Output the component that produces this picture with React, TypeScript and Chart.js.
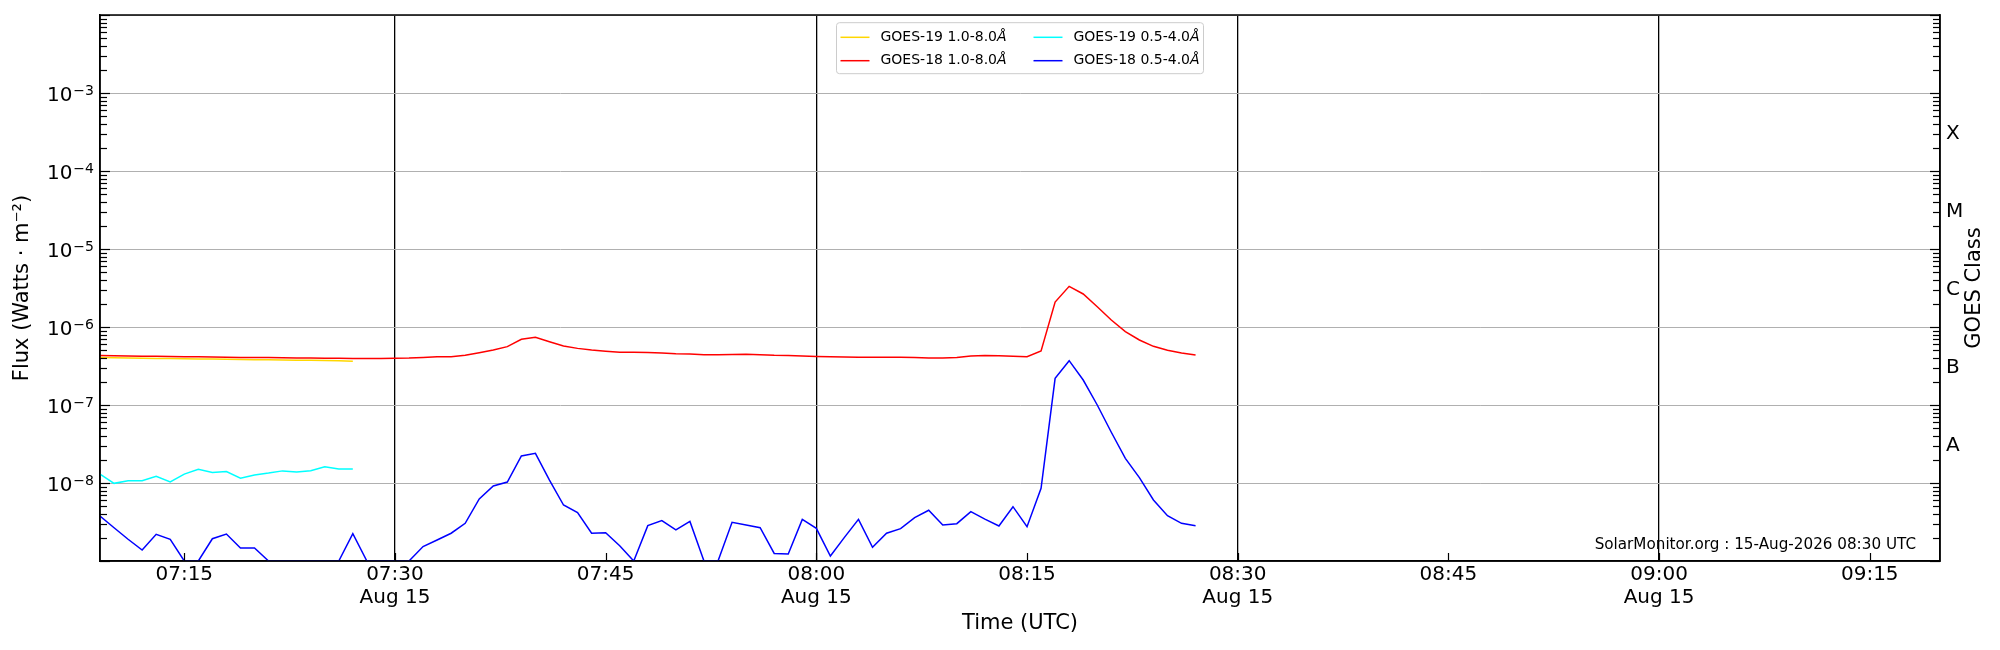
import { useEffect, useRef } from "react";
import { Chart, registerables } from "chart.js";

Chart.register(...registerables);

const FONT = "'DejaVu Sans', sans-serif";

// time axis in minutes after 00:00 UTC
const firstSample = 7 * 60 + 9; // 07:09, one reading per minute
const axisStart = 7 * 60 + 9;
const axisEnd = 9 * 60 + 20;
const timeTicks = [435, 450, 465, 480, 495, 510, 525, 540, 555];
const dayLabel = "Aug 15";

// flux axis
const fluxDecades = [-8, -7, -6, -5, -4, -3];
const goesClasses = ["A", "B", "C", "M", "X"];
const goesClassFlux = [3e-8, 3e-7, 3e-6, 3e-5, 3e-4];

const watermark = "SolarMonitor.org : 15-Aug-2026 08:30 UTC";

// Watts m^-2, 07:09 onwards
const goes19Long = [
  4.05e-7, 4.03e-7, 4.01e-7, 3.98e-7, 3.96e-7, 3.95e-7, 3.92e-7, 3.89e-7, 3.88e-7, 3.86e-7,
  3.83e-7, 3.81e-7, 3.8e-7, 3.78e-7, 3.75e-7, 3.74e-7, 3.71e-7, 3.68e-7, 3.65e-7
];

const goes19Short = [
  1.3e-8, 9.9e-9, 1.07e-8, 1.07e-8, 1.22e-8, 1.03e-8, 1.3e-8, 1.5e-8, 1.36e-8, 1.4e-8,
  1.15e-8, 1.27e-8, 1.34e-8, 1.43e-8, 1.38e-8, 1.44e-8, 1.62e-8, 1.51e-8, 1.51e-8
];

const goes18Long = [
  4.3e-7, 4.28e-7, 4.26e-7, 4.23e-7, 4.21e-7, 4.18e-7, 4.16e-7, 4.14e-7, 4.12e-7, 4.09e-7,
  4.07e-7, 4.06e-7, 4.05e-7, 4.03e-7, 4.01e-7, 3.99e-7, 3.98e-7, 3.97e-7, 3.96e-7, 3.96e-7,
  3.96e-7, 3.97e-7, 4.0e-7, 4.07e-7, 4.15e-7, 4.15e-7, 4.33e-7, 4.69e-7, 5.07e-7, 5.6e-7,
  6.95e-7, 7.38e-7, 6.48e-7, 5.7e-7, 5.32e-7, 5.07e-7, 4.88e-7, 4.73e-7, 4.73e-7, 4.72e-7,
  4.64e-7, 4.55e-7, 4.51e-7, 4.42e-7, 4.42e-7, 4.43e-7, 4.47e-7, 4.42e-7, 4.33e-7, 4.3e-7,
  4.25e-7, 4.2e-7, 4.17e-7, 4.12e-7, 4.08e-7, 4.08e-7, 4.09e-7, 4.08e-7, 4.05e-7, 4.0e-7,
  4.0e-7, 4.05e-7, 4.25e-7, 4.3e-7, 4.27e-7, 4.21e-7, 4.17e-7, 4.92e-7, 2.09e-6, 3.32e-6,
  2.65e-6, 1.82e-6, 1.23e-6, 8.71e-7, 6.81e-7, 5.65e-7, 5.02e-7, 4.64e-7, 4.38e-7
];

const goes18Short = [
  3.78e-9, 2.67e-9, 1.9e-9, 1.38e-9, 2.2e-9, 1.9e-9, 1e-9, 1e-9, 1.93e-9, 2.22e-9,
  1.47e-9, 1.47e-9, 1e-9, 1e-9, 1e-9, 1e-9, 1e-9, 1e-9, 2.24e-9, 1e-9,
  1e-9, 1e-9, 1e-9, 1.53e-9, 1.86e-9, 2.27e-9, 3.04e-9, 6.24e-9, 9.16e-9, 1.03e-8,
  2.22e-8, 2.4e-8, 1.09e-8, 5.22e-9, 4.17e-9, 2.27e-9, 2.3e-9, 1.57e-9, 1e-9, 2.84e-9,
  3.29e-9, 2.5e-9, 3.22e-9, 1e-9, 1e-9, 3.13e-9, 2.9e-9, 2.67e-9, 1.25e-9, 1.23e-9,
  3.42e-9, 2.62e-9, 1.16e-9, 2.01e-9, 3.42e-9, 1.5e-9, 2.27e-9, 2.6e-9, 3.59e-9, 4.47e-9,
  2.9e-9, 3.01e-9, 4.29e-9, 3.45e-9, 2.81e-9, 4.97e-9, 2.75e-9, 8.55e-9, 2.2e-7, 3.7e-7,
  2.09e-7, 1.0e-7, 4.47e-8, 2.07e-8, 1.17e-8, 6.05e-9, 3.81e-9, 3.04e-9, 2.84e-9
];

const hhmm = (m: number) =>
  String(Math.floor(m / 60)).padStart(2, "0") + ":" + String(m % 60).padStart(2, "0");

const toPoints = (values: number[]) => values.map((y, i) => ({ x: firstSample + i, y }));

const isDecade = (v: number) => {
  const l = Math.log10(v);
  return Math.abs(l - Math.round(l)) < 1e-6;
};

function logTicks() {
  const ticks: { value: number }[] = [];
  for (let e = -9; e <= -2; e++) {
    for (let m = 1; m <= 9; m++) {
      if (e === -2 && m > 1) break;
      ticks.push({ value: m * Math.pow(10, e) });
    }
  }
  return ticks;
}

const line = (ctx: CanvasRenderingContext2D, x1: number, y1: number, x2: number, y2: number) => {
  ctx.beginPath();
  ctx.moveTo(x1, y1);
  ctx.lineTo(x2, y2);
  ctx.stroke();
};

const decorPlugin = {
  id: "goesDecor",
  afterDraw(chart: any) {
    const { ctx, chartArea: a, scales } = chart;
    ctx.save();

    // inward tick marks
    ctx.strokeStyle = "#000";
    ctx.lineWidth = 1.2;
    scales.y.ticks.forEach((t: any) => {
      const py = Math.round(scales.y.getPixelForValue(t.value)) + 0.5;
      const len = isDecade(t.value) ? 10 : 7;
      line(ctx, a.left, py, a.left + len, py);
      line(ctx, a.right, py, a.right - len, py);
    });
    scales.x.ticks.forEach((t: any) => {
      const px = Math.round(scales.x.getPixelForValue(t.value)) + 0.5;
      line(ctx, px, a.bottom, px, a.bottom - 8);
    });

    // frame
    ctx.lineWidth = 1.5;
    ctx.strokeRect(a.left, a.top, a.right - a.left, a.bottom - a.top);

    // decade labels as 10 with a raised exponent
    ctx.fillStyle = "#000";
    ctx.textBaseline = "alphabetic";
    fluxDecades.forEach((e) => {
      const py = scales.y.getPixelForValue(Math.pow(10, e));
      const exp = "\u2212" + String(Math.abs(e));
      ctx.font = `14px ${FONT}`;
      const ew = ctx.measureText(exp).width;
      const right = a.left - 6;
      ctx.textAlign = "right";
      ctx.fillText(exp, right, py + 1.7);
      ctx.font = `20px ${FONT}`;
      ctx.fillText("10", right - ew - 1, py + 8.4);
    });

    // right axis title
    ctx.save();
    ctx.translate(a.right + 35, (a.top + a.bottom) / 2);
    ctx.rotate(-Math.PI / 2);
    ctx.font = `21px ${FONT}`;
    ctx.fillStyle = "#000";
    ctx.textAlign = "center";
    ctx.textBaseline = "middle";
    ctx.fillText("GOES Class", 0, 0);
    ctx.restore();

    // credit
    ctx.font = `15.2px ${FONT}`;
    ctx.fillStyle = "#000";
    ctx.textAlign = "right";
    ctx.textBaseline = "alphabetic";
    ctx.fillText(watermark, a.right - 24, a.bottom - 12);

    // legend, two columns, upper centre
    const boxW = 367;
    const boxH = 51;
    const bx = (a.left + a.right) / 2 - boxW / 2;
    const by = a.top + 7.7;
    ctx.beginPath();
    if (ctx.roundRect) ctx.roundRect(bx, by, boxW, boxH, 3);
    else ctx.rect(bx, by, boxW, boxH);
    ctx.fillStyle = "rgba(255,255,255,0.8)";
    ctx.fill();
    ctx.strokeStyle = "#cccccc";
    ctx.lineWidth = 1;
    ctx.stroke();

    chart.data.datasets.forEach((ds: any, i: number) => {
      const col = Math.floor(i / 2);
      const row = i % 2;
      const lx = bx + 4 + col * 193;
      const ly = by + 14.6 + row * 23.4;
      ctx.strokeStyle = ds.borderColor;
      ctx.lineWidth = ds.borderWidth;
      line(ctx, lx, ly, lx + 29, ly);
      const text: string = ds.label;
      const base = text.slice(0, -1);
      ctx.fillStyle = "#000";
      ctx.textAlign = "left";
      ctx.textBaseline = "middle";
      ctx.font = `14px ${FONT}`;
      ctx.fillText(base, lx + 40, ly);
      const w = ctx.measureText(base).width;
      ctx.font = `italic 14px ${FONT}`;
      ctx.fillText(text.slice(-1), lx + 40 + w, ly);
    });

    ctx.restore();
  }
};

export default function App() {
  const canvasRef = useRef<HTMLCanvasElement | null>(null);

  useEffect(() => {
    document.body.style.margin = "0";
    if (!canvasRef.current) return;

    const tickFont = { family: FONT, size: 20, lineHeight: 0.9 };

    const chart = new Chart(canvasRef.current, {
      type: "line",
      data: {
        datasets: [
          { label: "GOES-19 1.0-8.0Å", data: toPoints(goes19Long), borderColor: "#FFD700", borderWidth: 1.5, order: 1 },
          { label: "GOES-18 1.0-8.0Å", data: toPoints(goes18Long), borderColor: "#FF0000", borderWidth: 1.5, order: 0 },
          { label: "GOES-19 0.5-4.0Å", data: toPoints(goes19Short), borderColor: "#00FFFF", borderWidth: 1.5, order: 3 },
          { label: "GOES-18 0.5-4.0Å", data: toPoints(goes18Short), borderColor: "#0000FF", borderWidth: 1.5, order: 2 }
        ]
      },
      options: {
        animation: false,
        responsive: false,
        layout: { padding: { top: 15, left: 0, right: 0, bottom: 0 } },
        elements: { point: { radius: 0 }, line: { tension: 0 } },
        plugins: { legend: { display: false }, tooltip: { enabled: false } },
        scales: {
          x: {
            type: "linear",
            min: axisStart,
            max: axisEnd,
            afterBuildTicks: (s: any) => {
              s.ticks = timeTicks.map((v) => ({ value: v }));
            },
            afterFit: (s: any) => {
              s.height = 89;
            },
            ticks: {
              autoSkip: false,
              maxRotation: 0,
              padding: 2,
              color: "#000",
              font: { family: FONT, size: 20, lineHeight: 1.15 },
              callback: (v: any) => {
                const m = Number(v);
                return m % 30 === 0 ? [hhmm(m), dayLabel] : hhmm(m);
              }
            },
            grid: {
              drawTicks: false,
              lineWidth: 1.3,
              color: (c: any) => (c.tick && c.tick.value % 30 === 0 ? "#000" : "rgba(0,0,0,0)")
            },
            border: { color: "#000", width: 1.5 },
            title: {
              display: true,
              text: "Time (UTC)",
              color: "#000",
              font: { family: FONT, size: 21 },
              padding: { top: 0, bottom: 13.4 }
            }
          },
          y: {
            type: "logarithmic",
            position: "left",
            min: 1e-9,
            max: 1e-2,
            afterBuildTicks: (s: any) => {
              s.ticks = logTicks();
            },
            afterFit: (s: any) => {
              s.width = 100;
            },
            ticks: {
              autoSkip: false,
              padding: 6,
              color: "#000",
              font: tickFont,
              // decade labels are drawn by goesDecor with a raised exponent
              callback: () => ""
            },
            grid: {
              drawTicks: false,
              lineWidth: 1,
              color: (c: any) =>
                c.tick && isDecade(c.tick.value) ? "#b0b0b0" : "rgba(0,0,0,0)"
            },
            border: { color: "#000", width: 1.5 },
            title: {
              display: true,
              text: "Flux (Watts · m\u207B\u00B2)",
              color: "#000",
              font: { family: FONT, size: 21 },
              padding: { top: 10.4, bottom: 0 }
            }
          },
          y2: {
            type: "logarithmic",
            position: "right",
            min: 1e-9,
            max: 1e-2,
            afterBuildTicks: (s: any) => {
              s.ticks = goesClassFlux.map((v) => ({ value: v }));
            },
            afterFit: (s: any) => {
              s.width = 60;
            },
            ticks: {
              autoSkip: false,
              padding: 6,
              color: "#000",
              font: tickFont,
              callback: (_v: any, i: number) => goesClasses[i]
            },
            grid: { drawOnChartArea: false, drawTicks: false },
            border: { color: "#000", width: 1.5 }
          }
        }
      },
      plugins: [decorPlugin]
    } as any);

    return () => chart.destroy();
  }, []);

  return (
    <div style={{ width: 2000, height: 650, background: "#fff" }}>
      <canvas ref={canvasRef} width={2000} height={650} style={{ display: "block" }} />
    </div>
  );
}
